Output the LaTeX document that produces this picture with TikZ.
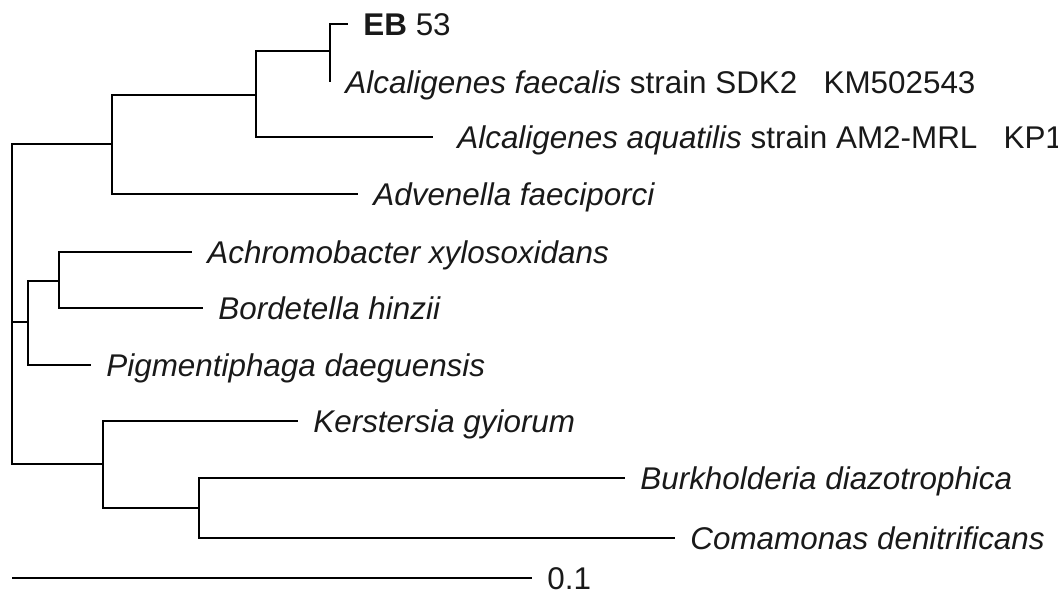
\documentclass[tikz,border=0pt]{standalone}
\usepackage{fontspec}
\setmainfont{Liberation Sans}
\usetikzlibrary{positioning}

\begin{document}
\begin{tikzpicture}[
  x=0.5pt, y=-0.5pt,
  branch/.style={line width=1.35pt, color=black},
  taxon/.style={font=\fontsize{15.7}{18}\selectfont, inner sep=0pt, text height=11.2pt, text depth=0pt, color=black!90},
  node distance=7.5pt
]
\useasboundingbox (0,0) rectangle (1058,590);

% inner nodes
\coordinate (root) at (12,322);
\coordinate (alc) at (112,144);
\coordinate (alcg) at (256,95);
\coordinate (eb) at (330,51);
\coordinate (bord) at (28,322);
\coordinate (achr) at (59,281);
\coordinate (kers) at (103,464);
\coordinate (burk) at (199,508);

% tips
\coordinate (t-eb) at (348,24);
\coordinate (t-fae) at (330,82);
\coordinate (t-aqu) at (433,137);
\coordinate (t-adv) at (358,194);
\coordinate (t-ach) at (192,252);
\coordinate (t-bor) at (203,308);
\coordinate (t-pig) at (91,365);
\coordinate (t-ker) at (298,421);
\coordinate (t-bur) at (625,478);
\coordinate (t-com) at (675,538);

\node[taxon, right=of t-eb] (l-eb) {\textbf{EB} 53};
\node[taxon, right=of t-fae] (l-fae) {\textit{Alcaligenes faecalis} strain SDK2~~~KM502543};
\node[taxon, right=12pt of t-aqu] (l-aqu) {\textit{Alcaligenes aquatilis} strain AM2-MRL~~~KP1};
\node[taxon, right=of t-adv] (l-adv) {\textit{Advenella faeciporci}};
\node[taxon, right=of t-ach] (l-ach) {\textit{Achromobacter xylosoxidans}};
\node[taxon, right=of t-bor] (l-bor) {\textit{Bordetella hinzii}};
\node[taxon, right=of t-pig] (l-pig) {\textit{Pigmentiphaga daeguensis}};
\node[taxon, right=of t-ker] (l-ker) {\textit{Kerstersia gyiorum}};
\node[taxon, right=of t-bur] (l-bur) {\textit{Burkholderia diazotrophica}};
\node[taxon, right=of t-com] (l-com) {\textit{Comamonas denitrificans}};

% branches
\draw[branch] (root) |- (alc);
\draw[branch] (root) |- (bord);
\draw[branch] (root) |- (kers);
\draw[branch] (alc) |- (alcg);
\draw[branch] (alc) |- (t-adv);
\draw[branch] (alcg) |- (eb);
\draw[branch] (alcg) |- (t-aqu);
\draw[branch] (eb) |- (t-eb);
\draw[branch] (eb) |- (t-fae);
\draw[branch] (bord) |- (achr);
\draw[branch] (bord) |- (t-pig);
\draw[branch] (achr) |- (t-ach);
\draw[branch] (achr) |- (t-bor);
\draw[branch] (kers) |- (t-ker);
\draw[branch] (kers) |- (burk);
\draw[branch] (burk) |- (t-bur);
\draw[branch] (burk) |- (t-com);

% scale bar
\coordinate (s0) at (12,578);
\coordinate (s1) at (532,578);
\draw[branch] (s0) -- (s1);
\node[taxon, right=of s1] (l-scale) {0.1};
\end{tikzpicture}
\end{document}
